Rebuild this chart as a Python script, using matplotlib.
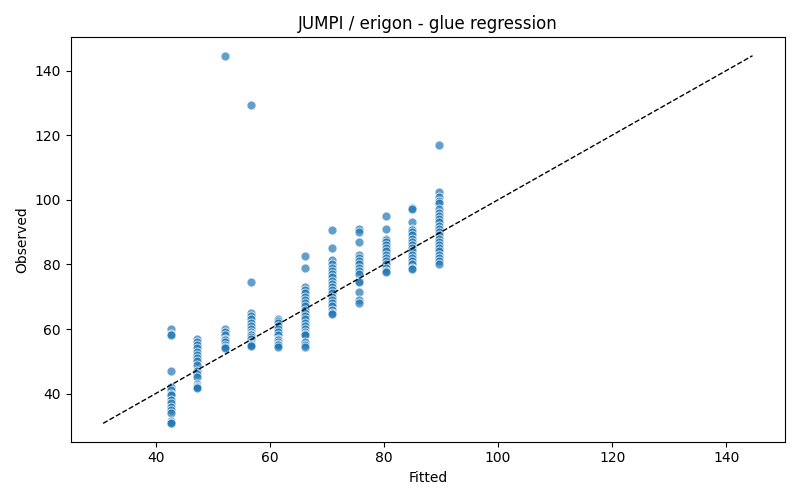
import matplotlib
matplotlib.use("Agg")
import matplotlib.pyplot as plt
import numpy as np

# fitted level per group and the observed values in that group
fitted_levels = [42.7, 47.3, 52.1, 56.7, 61.4, 66.1, 70.9, 75.6, 80.3, 85.0, 89.7]
observed_groups = [
    [60, 58.5, 58.3, 47, 42, 41, 40, 39.5, 38, 37, 36, 35, 34, 31.5, 31, 30.8],
    [57, 56, 55, 54, 53, 52, 51, 50, 49, 47, 46, 45, 43, 42.5, 42, 41.7],
    [144.6, 60, 59, 58, 57, 56.5, 56, 55, 54.5, 54],
    [129.4, 74.5, 65, 64, 63, 62, 61, 60, 59, 58.5, 58, 57.5, 57, 56, 55.5, 55, 54.7],
    [63, 62.5, 62, 61, 60, 59, 58, 57, 56.5, 56, 55.5, 55, 54.5],
    [82.5, 79, 73, 72, 71, 70, 69, 68, 67, 66, 65, 64, 63, 62, 61, 60, 59, 58.5,
     58, 56, 55, 54.5],
    [90.5, 85, 81.5, 80, 79, 78, 77, 76, 75, 74, 73, 72, 71, 70, 69, 68, 67, 66,
     65, 64.7],
    [91, 90, 87, 83, 82, 81, 80, 79, 78, 77, 75, 74.5, 71.5, 69, 68],
    [95, 91, 88, 87.5, 87, 86, 85, 84, 83, 82, 81, 80, 79, 78, 77.7],
    [97.5, 97, 93, 91, 90.5, 90, 89, 88, 87, 86, 85, 84, 83, 82, 81, 80, 79, 78.5],
    [117, 102.5, 101, 99.5, 99, 97, 96, 95, 94, 93, 92, 91, 90, 89, 88, 87, 86,
     85, 84, 83, 82, 81, 80],
]

fitted = np.concatenate([[f] * len(g) for f, g in zip(fitted_levels, observed_groups)])
observed = np.concatenate(observed_groups)

fig, ax = plt.subplots(figsize=(8, 5), dpi=100)
ax.scatter(fitted, observed, s=42, color="tab:blue", alpha=0.7,
           edgecolors="white", linewidths=0.75)

lo = min(fitted.min(), observed.min())
hi = max(fitted.max(), observed.max())
ax.plot([lo, hi], [lo, hi], "k--", lw=1)

ax.set_title("JUMPI / erigon - glue regression")
ax.set_xlabel("Fitted")
ax.set_ylabel("Observed")
plt.tight_layout()
plt.savefig("out.png")
